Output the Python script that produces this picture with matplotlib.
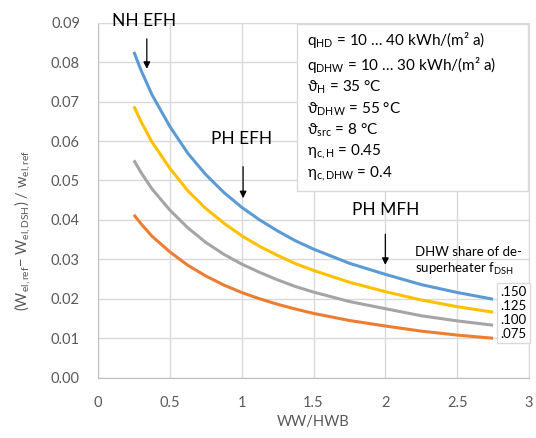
import matplotlib
matplotlib.use('Agg')
import matplotlib.pyplot as plt
from matplotlib.patches import Rectangle

plt.rcParams['font.family'] = ['Lato', 'DejaVu Sans']
plt.rcParams['mathtext.fontset'] = 'custom'
plt.rcParams['mathtext.rm'] = 'Lato'
plt.rcParams['mathtext.it'] = 'Lato'

# WW/HWB ratio
ratio = [0.25, 0.3, 0.375, 0.5, 0.625, 0.75, 0.875, 1.0, 1.125, 1.25, 1.375, 1.5,
         1.75, 2.0, 2.25, 2.5, 2.75]
# relative savings for each DHW share of desuperheater
f150 = [0.0826, 0.0779, 0.0718, 0.0637, 0.0569, 0.0515, 0.0470, 0.0432, 0.0400,
        0.0372, 0.0347, 0.0326, 0.0290, 0.0262, 0.0236, 0.0216, 0.0199]
f125 = [0.0688, 0.0649, 0.0598, 0.0531, 0.0474, 0.0429, 0.0392, 0.0360, 0.0333,
        0.0310, 0.0289, 0.0272, 0.0242, 0.0218, 0.0197, 0.0180, 0.0166]
f100 = [0.0551, 0.0520, 0.0479, 0.0425, 0.0380, 0.0343, 0.0313, 0.0288, 0.0267,
        0.0248, 0.0231, 0.0217, 0.0193, 0.0175, 0.0157, 0.0144, 0.0133]
f075 = [0.0413, 0.0390, 0.0359, 0.0319, 0.0285, 0.0258, 0.0235, 0.0216, 0.0200,
        0.0186, 0.0174, 0.0163, 0.0145, 0.0131, 0.0118, 0.0108, 0.0100]
shares = ['.150', '.125', '.100', '.075']
colors = ['#5B9BD5', '#FFC000', '#A5A5A5', '#ED7D31']

params = [r'q$_{\mathrm{HD}}$ = 10 … 40 kWh/(m² a)',
          r'q$_{\mathrm{DHW}}$ = 10 … 30 kWh/(m² a)',
          r'ϑ$_{\mathrm{H}}$ = 35 °C',
          r'ϑ$_{\mathrm{DHW}}$ = 55 °C',
          r'ϑ$_{\mathrm{src}}$ = 8 °C',
          r'η$_{\mathrm{c,H}}$ = 0.45',
          r'η$_{\mathrm{c,DHW}}$ = 0.4']

fig = plt.figure(figsize=(5.36, 4.38), dpi=100)
ax = fig.add_axes([0.1828, 0.1377, 0.8042, 0.8105])

for ys, c in zip([f150, f125, f100, f075], colors):
    ax.plot(ratio, ys, color=c, lw=2.2, solid_capstyle='butt', solid_joinstyle='round')

ax.set_xlim(0, 3)
ax.set_ylim(0, 0.09)
ax.set_xticks([0, 0.5, 1, 1.5, 2, 2.5, 3])
ax.set_xticklabels(['0', '0.5', '1', '1.5', '2', '2.5', '3'])
ax.set_yticks([i * 0.01 for i in range(10)])
ax.set_yticklabels(['%.2f' % (i * 0.01) for i in range(10)])
ax.grid(color='#D9D9D9', lw=1)
ax.set_axisbelow(True)
ax.tick_params(length=0, labelsize=10.5, labelcolor='#595959', pad=13)
for s in ['top', 'right']:
    ax.spines[s].set_color('#D9D9D9')
for s in ['left', 'bottom']:
    ax.spines[s].set_color('#BFBFBF')

ax.set_xlabel('WW/HWB', fontsize=10.5, color='#595959', labelpad=4)
fig.text(22 / 536, 1 - 230 / 438,
         r'(W$_{\mathrm{el,ref}}$− W$_{\mathrm{el,DSH}}$) / w$_{\mathrm{el,ref}}$',
         rotation=90, ha='center', va='center', fontsize=10.5, color='#595959')

# building type annotations
arrow = dict(arrowstyle='-|>', color='black', lw=0.9, mutation_scale=10)
ax.text(0.32, 0.0904, 'NH EFH', fontsize=12.5, ha='center', va='center', clip_on=False)
ax.annotate('', xy=(0.34, 0.0776), xytext=(0.34, 0.0866), arrowprops=arrow)
ax.text(1.0, 0.0606, 'PH EFH', fontsize=12.5, ha='center', va='center')
ax.annotate('', xy=(1.01, 0.0448), xytext=(1.01, 0.0542), arrowprops=arrow)
ax.text(2.0, 0.0425, 'PH MFH', fontsize=12.5, ha='center', va='center')
ax.annotate('', xy=(2.0, 0.0279), xytext=(2.0, 0.0371), arrowprops=arrow)

# parameter box
ax.add_patch(Rectangle((0.462, 0.527), 0.536, 0.47, transform=ax.transAxes,
                       fc='white', ec='#D9D9D9', lw=1, zorder=3))
ax.text(0.485, 0.978, '\n'.join(params), transform=ax.transAxes, ha='left', va='top',
        fontsize=11, linespacing=1.3, zorder=4)

# series labels
fig.text(415 / 536, 1 - 246 / 438, 'DHW share of de-\nsuperheater f$_{\\mathrm{DSH}}$',
         ha='left', va='top', fontsize=9.5, linespacing=1.25)
fig.text(500 / 536, 1 - 286 / 438, '\n'.join(shares), ha='left', va='top',
         fontsize=9.5, linespacing=1.2,
         bbox=dict(boxstyle='square,pad=0.25', fc='white', ec='#D9D9D9', lw=1))

fig.savefig('out.png', dpi=100)
